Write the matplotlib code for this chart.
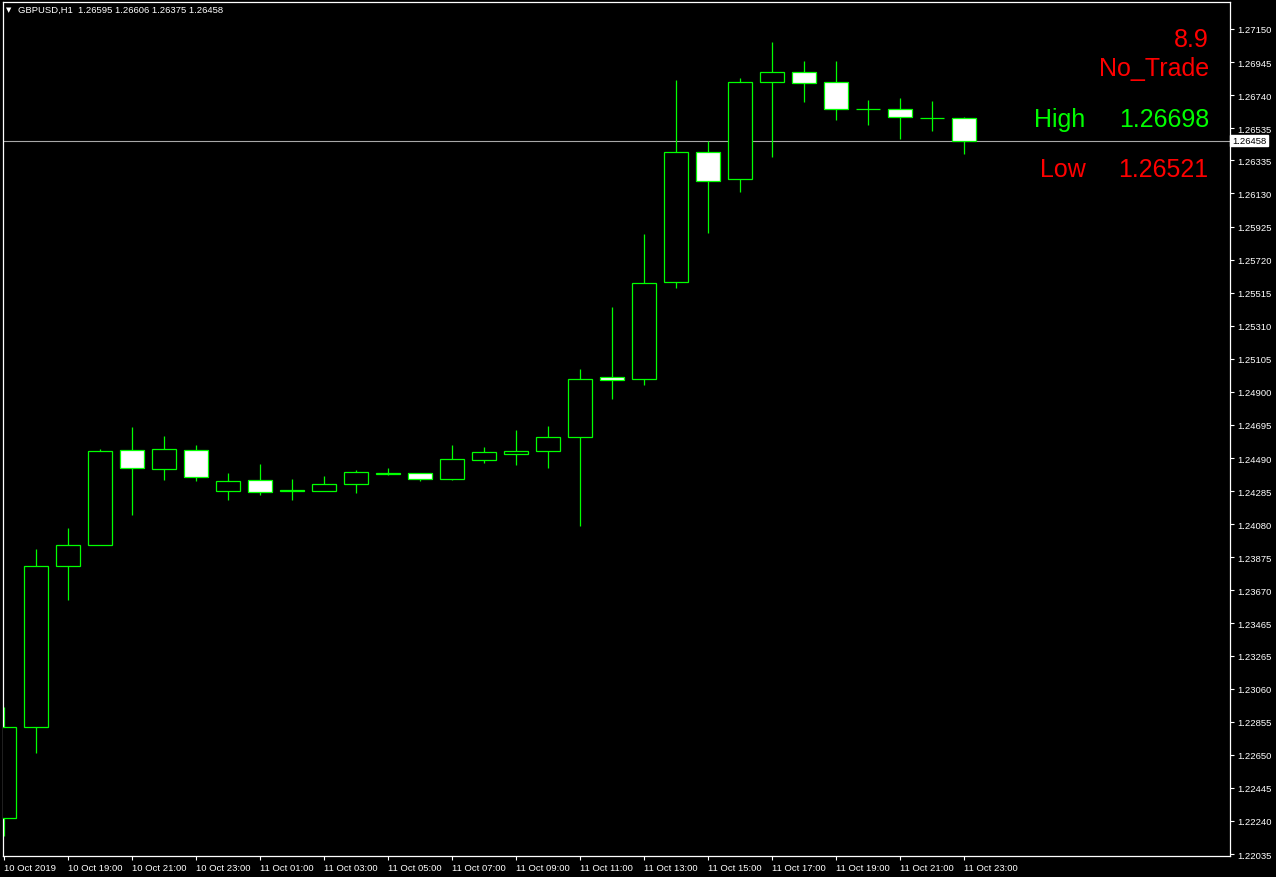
import matplotlib
matplotlib.use("Agg")
import matplotlib.pyplot as plt
import matplotlib.patches as patches
import matplotlib.transforms as mtransforms

# GBPUSD H1 candles, 10 Oct 17:00 .. 11 Oct 23:00
opens = [1.22256, 1.22821, 1.23819, 1.23953, 1.24538, 1.24424, 1.24538, 1.24287,
         1.24352, 1.24292, 1.24287, 1.24331, 1.24394, 1.24395, 1.24362, 1.24480,
         1.24517, 1.24535, 1.24619, 1.24991, 1.24978, 1.25580, 1.26386, 1.26218,
         1.26820, 1.26882, 1.26820, 1.26652, 1.26652, 1.26596, 1.26595]
highs = [1.22945, 1.23926, 1.24056, 1.24546, 1.24682, 1.24627, 1.24571, 1.24397,
         1.24453, 1.24360, 1.24379, 1.24416, 1.24428, 1.24395, 1.24571, 1.24558,
         1.24664, 1.24689, 1.25042, 1.25426, 1.25879, 1.26834, 1.26457, 1.26846,
         1.27069, 1.26952, 1.26952, 1.26710, 1.26722, 1.26704, 1.26606]
lows = [1.22148, 1.22663, 1.23612, 1.23953, 1.24137, 1.24354, 1.24348, 1.24230,
        1.24261, 1.24230, 1.24287, 1.24273, 1.24387, 1.24349, 1.24354, 1.24461,
        1.24449, 1.24430, 1.24070, 1.24856, 1.24945, 1.25546, 1.25885, 1.26141,
        1.26358, 1.26699, 1.26588, 1.26557, 1.26470, 1.26520, 1.26375]
closes = [1.22821, 1.23819, 1.23951, 1.24532, 1.24430, 1.24544, 1.24374, 1.24346,
          1.24281, 1.24284, 1.24327, 1.24402, 1.24400, 1.24362, 1.24482, 1.24526,
          1.24532, 1.24619, 1.24978, 1.24976, 1.25573, 1.26386, 1.26209, 1.26820,
          1.26882, 1.26813, 1.26652, 1.26652, 1.26603, 1.26596, 1.26458]

time_labels = ["10 Oct 2019", "10 Oct 19:00", "10 Oct 21:00", "10 Oct 23:00",
               "11 Oct 01:00", "11 Oct 03:00", "11 Oct 05:00", "11 Oct 07:00",
               "11 Oct 09:00", "11 Oct 11:00", "11 Oct 13:00", "11 Oct 15:00",
               "11 Oct 17:00", "11 Oct 19:00", "11 Oct 21:00", "11 Oct 23:00"]
price_ticks = [1.27150, 1.26945, 1.26740, 1.26535, 1.26335, 1.26130, 1.25925,
               1.25720, 1.25515, 1.25310, 1.25105, 1.24900, 1.24695, 1.24490,
               1.24285, 1.24080, 1.23875, 1.23670, 1.23465, 1.23265, 1.23060,
               1.22855, 1.22650, 1.22445, 1.22240, 1.22035]
bid = 1.26458
header = "GBPUSD,H1  1.26595 1.26606 1.26375 1.26458"
signal_value = "8.9"
signal_text = "No_Trade"
level_high = "1.26698"
level_low = "1.26521"

W, H = 1276, 878
fig = plt.figure(figsize=(W / 100, H / 100), dpi=100, facecolor="black")
ax = fig.add_axes([3 / W, 1 - 857 / H, 1227 / W, 854 / H], facecolor="black")

green = "#00FF00"
lw = 0.9
body_w = 0.75

# wicks first, then bodies on top
for i in range(len(opens)):
    ax.vlines(i, lows[i], highs[i], color=green, linewidth=lw, zorder=2)
    lo = min(opens[i], closes[i])
    hi = max(opens[i], closes[i])
    face = "black" if closes[i] > opens[i] else "white"
    ax.add_patch(patches.Rectangle((i - body_w / 2, lo), body_w, hi - lo,
                                   facecolor=face, edgecolor=green,
                                   linewidth=lw, zorder=3))

# bid line and price box
ax.axhline(bid, color="#A8A8A8", linewidth=0.8, zorder=1)
trans = mtransforms.blended_transform_factory(ax.transAxes, ax.transData)
ax.text(1.0015, bid, "1.26458", transform=trans, ha="left", va="center",
        fontsize=6.8, family="Liberation Sans", color="black", zorder=5,
        bbox=dict(boxstyle="square,pad=0.15", facecolor="white", edgecolor="white"))

ax.set_xlim(-0.5 / 32, 1227 / 32 - 0.5 / 32)
ax.set_ylim(1.22023, 1.27317)

ax.yaxis.tick_right()
ax.set_yticks(price_ticks)
ax.set_yticklabels([f"{p:.5f}" for p in price_ticks])
ax.set_xticks(range(0, 31, 2))
ax.set_xticklabels(time_labels, ha="left")
ax.tick_params(axis="both", colors="white", direction="out", length=3,
               width=0.8, labelsize=6.8, pad=2)
for lab in ax.get_xticklabels() + ax.get_yticklabels():
    lab.set_family("Liberation Sans")
for s in ax.spines.values():
    s.set_color("white")
    s.set_linewidth(0.9)

# header in top-left
fig.text(9 / W, 1 - 10 / H, "\u25BC", color="white", fontsize=5,
         ha="center", va="center")
fig.text(18 / W, 1 - 10 / H, header, color="white", fontsize=6.8,
         family="Liberation Sans", ha="left", va="center")

# indicator text on the right
def ftxt(x, y, s, color, ha):
    fig.text(x / W, 1 - y / H, s, color=color, fontsize=18,
             family="Liberation Sans", ha=ha, va="center")

ftxt(1209, 40, signal_value, "#FF0000", "right")
ftxt(1209, 69, signal_text, "#FF0000", "right")
ftxt(1034, 120, "High", green, "left")
ftxt(1209, 120, level_high, green, "right")
ftxt(1040, 170, "Low", "#FF0000", "left")
ftxt(1208, 170, level_low, "#FF0000", "right")

fig.savefig("out.png", dpi=100, facecolor="black")
